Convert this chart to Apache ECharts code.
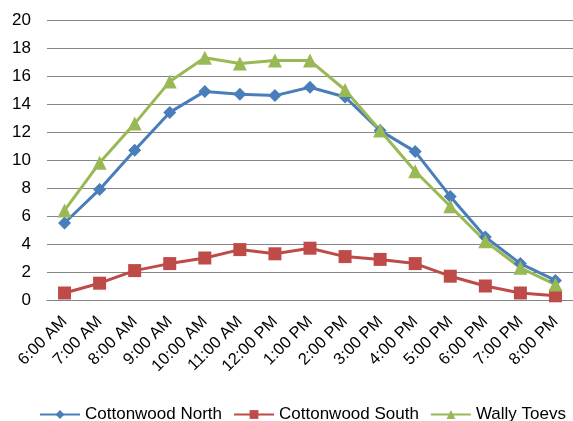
<!DOCTYPE html>
<html><head><meta charset="utf-8">
<script src="https://cdn.jsdelivr.net/npm/echarts@6/dist/echarts.min.js"></script>
<style>html,body{margin:0;padding:0;background:#fff}#c{width:573px;height:421px}</style>
</head><body><div id="c"></div>
<script>
var categories = ['6:00 AM','7:00 AM','8:00 AM','9:00 AM','10:00 AM','11:00 AM','12:00 PM','1:00 PM','2:00 PM','3:00 PM','4:00 PM','5:00 PM','6:00 PM','7:00 PM','8:00 PM'];
var cottonwoodNorth = [5.5,7.9,10.7,13.4,14.9,14.7,14.6,15.2,14.5,12.1,10.6,7.4,4.5,2.6,1.4];
var cottonwoodSouth = [0.5,1.2,2.1,2.6,3.0,3.6,3.3,3.7,3.1,2.9,2.6,1.7,1.0,0.5,0.3];
var wallyToevs = [6.4,9.8,12.6,15.6,17.3,16.9,17.1,17.1,15.0,12.1,9.2,6.7,4.2,2.3,1.1];
var yTicks = [0,2,4,6,8,10,12,14,16,18,20];

var font = 'Liberation Sans, Arial, sans-serif';
function ser(name, data, color, symbol, size){
  return {name:name,type:'line',data:data,symbol:symbol,symbolSize:size,
    lineStyle:{color:color,width:3},itemStyle:{color:color},
    emphasis:{disabled:true}};
}
var chart = echarts.init(document.getElementById('c'));
chart.setOption({
  animation:false,
  grid:{left:47,right:-10,top:20,bottom:121},
  xAxis:{type:'category',data:categories,boundaryGap:true,
    axisLine:{lineStyle:{color:'#868686'}},axisTick:{show:false},
    axisLabel:{rotate:45,color:'#000',fontFamily:font,fontSize:16.5,margin:19,interval:0}},
  yAxis:{type:'value',min:yTicks[0],max:yTicks[yTicks.length-1],interval:2,
    axisLine:{show:false},axisTick:{show:false},
    splitLine:{lineStyle:{color:'#868686',width:1}},
    axisLabel:{color:'#000',fontFamily:font,fontSize:17,margin:16}},
  legend:{top:401,left:34,width:560,itemGap:11,itemWidth:40,itemHeight:11,
    textStyle:{fontFamily:font,fontSize:17,color:'#000'},
    data:['Cottonwood North','Cottonwood South','Wally Toevs']},
  series:[
    ser('Cottonwood North',cottonwoodNorth,'#4A7EBB','diamond',13),
    ser('Cottonwood South',cottonwoodSouth,'#BE4B48','rect',13),
    ser('Wally Toevs',wallyToevs,'#98B954','triangle',14)
  ]
});
</script></body></html>
